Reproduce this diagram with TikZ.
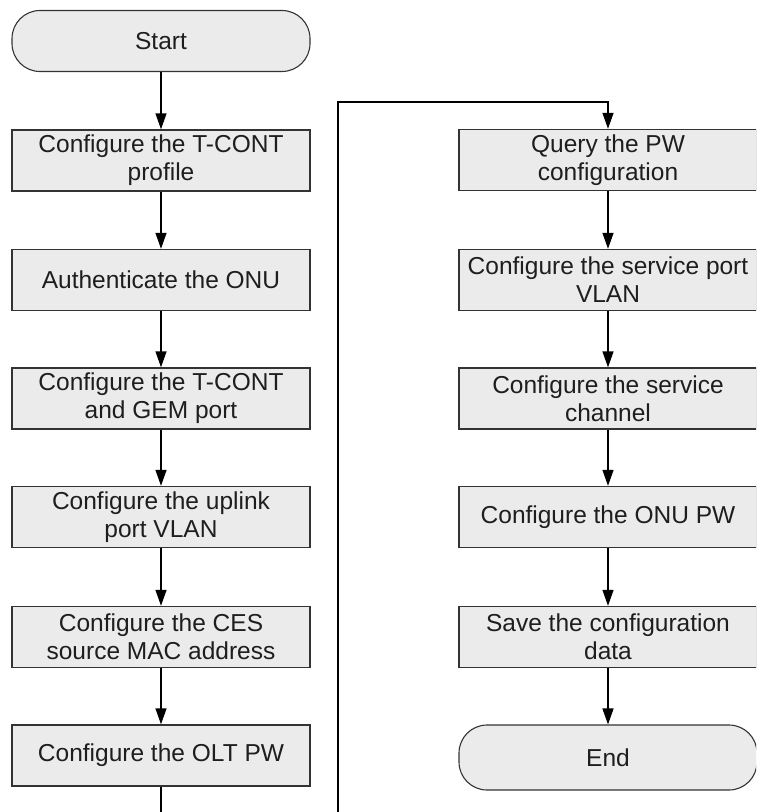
\documentclass[tikz,border=0pt]{standalone}
\usepackage{fontspec}
\setmainfont{Liberation Sans}
\usetikzlibrary{arrows.meta}
\definecolor{boxfill}{HTML}{EBEBEB}
\definecolor{boxline}{HTML}{333333}
\definecolor{txt}{HTML}{1E1E1E}
\tikzset{
  stepbox/.style={draw=boxline, line width=1.4pt, fill=boxfill,
    minimum width=298pt, minimum height=61pt, inner sep=0pt,
    align=center, text=txt,
    font=\fontsize{24.5}{28}\selectfont},
  terminal/.style={stepbox, rounded corners=28pt, line width=1.1pt},
  flow/.style={line width=1.4pt, draw=black,
    -{Triangle[width=11pt,length=16pt]}},
}
\begin{document}
\begin{tikzpicture}[x=1pt, y=-1pt]
  \useasboundingbox (0,0) rectangle (756,812);
  \clip (0,0) rectangle (756,812);
  \fill[white] (0,0) rectangle (756,812);

  % left column
  \node[terminal] (start) at (161,41) {Start};
  \node[stepbox] (tcont)  at (161,160.5) {Configure the T-CONT\\profile};
  \node[stepbox] (auth)   at (161,280)   {Authenticate the ONU};
  \node[stepbox] (gem)    at (161,398.5) {Configure the T-CONT\\and GEM port};
  \node[stepbox] (uplink) at (161,517)   {Configure the uplink\\port VLAN};
  \node[stepbox] (ces)    at (161,637)   {Configure the CES\\source MAC address};
  \node[stepbox] (olt)    at (161,755.5) {Configure the OLT PW};

  % right column
  \node[stepbox] (query)  at (608,160)   {Query the PW\\configuration};
  \node[stepbox] (svlan)  at (608,280)   {Configure the service port\\VLAN};
  \node[stepbox] (chan)   at (608,398.5) {Configure the service\\channel};
  \node[stepbox] (onupw)  at (608,517)   {Configure the ONU PW};
  \node[stepbox] (save)   at (608,637)   {Save the configuration\\data};
  \node[terminal, minimum height=65pt] (end) at (608,757.5) {End};

  % connectors
  \draw[flow] (start) -- (tcont);
  \draw[flow] (tcont) -- (auth);
  \draw[flow] (auth) -- (gem);
  \draw[flow] (gem) -- (uplink);
  \draw[flow] (uplink) -- (ces);
  \draw[flow] (ces) -- (olt);

  \coordinate (lowL) at (161,840);
  \coordinate (lowR) at (338,840);
  \coordinate (topR) at (338,102);
  \draw[flow] (olt.south) -- (lowL) -- (lowR) -- (topR) -| (query.north);

  \draw[flow] (query) -- (svlan);
  \draw[flow] (svlan) -- (chan);
  \draw[flow] (chan) -- (onupw);
  \draw[flow] (onupw) -- (save);
  \draw[flow] (save) -- (end);
\end{tikzpicture}
\end{document}
